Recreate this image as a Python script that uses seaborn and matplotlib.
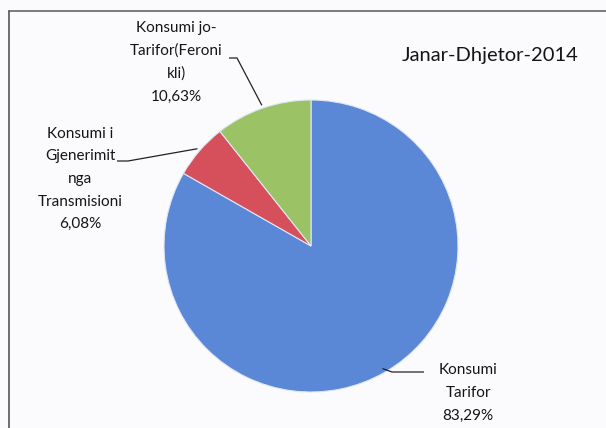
import numpy as np
import matplotlib
matplotlib.use("Agg")
import matplotlib.pyplot as plt
import seaborn as sns

# Electricity consumption shares, January-December 2014
categories = ["Konsumi\nTarifor",
              "Konsumi i\nGjenerimit\nnga\nTransmisioni",
              "Konsumi jo-\nTarifor(Feroni\nkli)"]
shares = [83.29, 6.08, 10.63]
share_labels = ["83,29%", "6,08%", "10,63%"]
title = "Janar-Dhjetor-2014"

sns.set_theme(style="white")
plt.rcParams["font.family"] = ["Lato", "DejaVu Sans"]

W, H = 606, 428
fig = plt.figure(figsize=(W / 100, H / 100), dpi=100)
fig.patch.set_facecolor("#fbfbfd")

# pie geometry in pixels (slightly elliptical)
cx, cy, rx, ry = 311, 246, 147, 146
ax = fig.add_axes([(cx - rx) / W, (H - (cy + ry)) / H, 2 * rx / W, 2 * ry / H])
ax.axis("off")

colors = ["#5a88d6", "#d6505c", "#9cc266"]
wedges, _ = ax.pie(shares, colors=colors, startangle=90, counterclock=False,
                   radius=1, center=(0, 0), frame=False,
                   wedgeprops=dict(linewidth=0.8, edgecolor="#dfe6f5"))
ax.set_xlim(-1, 1)
ax.set_ylim(-1, 1)
ax.set_aspect("auto")


def to_data(px, py):
    return (px - cx) / rx, (cy - py) / ry


# label block centres and leader elbow points (pixels)
label_pos = [(468, 393), (80, 179), (176, 62)]
elbows = [[(392, 372), (424, 372)],
          [(128, 161), (117, 161)],
          [(237, 58), (229, 58)]]

for w, cat, pct, (lx, ly), elb in zip(wedges, categories, share_labels, label_pos, elbows):
    mid = np.deg2rad((w.theta1 + w.theta2) / 2)
    r0 = 0.97 if cat.startswith("Konsumi\nT") else 1.02
    pts = [(r0 * np.cos(mid), r0 * np.sin(mid))] + [to_data(*p) for p in elb]
    xs, ys = zip(*pts)
    ax.plot(xs, ys, color="#222222", lw=0.9, clip_on=False, solid_capstyle="butt")
    tx, ty = to_data(lx, ly)
    ax.text(tx, ty, f"{cat}\n{pct}", ha="center", va="center", fontsize=11,
            linespacing=1.78, color="#151515", clip_on=False)

fig.text(402 / W, 1 - 55 / H, title, ha="left", va="center", fontsize=14.5,
         color="#151515")

# chart frame (top and left edges)
fig.add_artist(plt.Line2D([9 / W, 1], [1 - 11 / H, 1 - 11 / H], color="#666666", lw=1.2,
                          transform=fig.transFigure))
fig.add_artist(plt.Line2D([9 / W, 9 / W], [0, 1 - 11 / H], color="#555555", lw=1.2,
                          transform=fig.transFigure))

fig.savefig("out.png", dpi=100, facecolor=fig.get_facecolor())
